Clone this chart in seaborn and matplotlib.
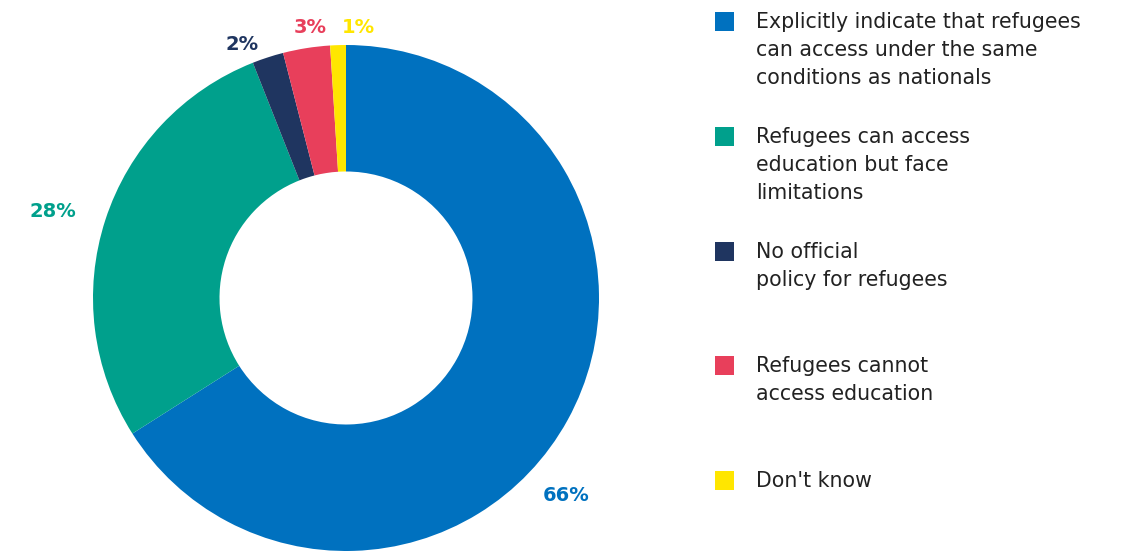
import matplotlib.pyplot as plt
import seaborn as sns
from matplotlib.patches import Rectangle

sns.set_theme(style="white")
plt.rcParams['font.family'] = ['DejaVu Sans']

# Data
categories = [
    "Explicitly indicate that refugees\ncan access under the same\nconditions as nationals",
    "Refugees can access\neducation but face\nlimitations",
    "No official\npolicy for refugees",
    "Refugees cannot\naccess education",
    "Don't know",
]
values = [66, 28, 2, 3, 1]
colors = ["#0071BF", "#00A08C", "#1F3560", "#E83F5B", "#FFE600"]
pct_labels = ["66%", "28%", "2%", "3%", "1%"]
# where each percentage label sits (data coords, radius 1 = outer edge)
label_xy = [(0.87, -0.78), (-1.16, 0.34), (-0.41, 1.0), (-0.14, 1.07), (0.05, 1.07)]

W, H = 1126, 551
fig = plt.figure(figsize=(W / 100, H / 100), dpi=100)

# donut axes: centre (346, 298) px, radius 253 px
cx, cy, r = 346, 298, 253
ax = fig.add_axes([(cx - r) / W, (H - cy - r) / H, 2 * r / W, 2 * r / H])
ax.pie(values, colors=colors, startangle=90, counterclock=False,
       wedgeprops=dict(width=0.5, linewidth=0))
ax.set_xlim(-1, 1)
ax.set_ylim(-1, 1)
ax.set_aspect('equal')
ax.axis('off')

for lab, (x, y), c in zip(pct_labels, label_xy, colors):
    ax.text(x, y, lab, color=c, fontsize=14, fontweight='bold',
            ha='center', va='center', clip_on=False)

# legend drawn by hand
sq = 19
for i, (cat, c) in enumerate(zip(categories, colors)):
    top = 12 + i * 114.75
    fig.add_artist(Rectangle((715 / W, 1 - (top + sq) / H), sq / W, sq / H,
                             transform=fig.transFigure, color=c, lw=0))
    fig.text(756 / W, 1 - top / H, cat, fontsize=14.8, color="#222222",
             ha='left', va='top', linespacing=1.5)

fig.savefig('out.png', dpi=100)
